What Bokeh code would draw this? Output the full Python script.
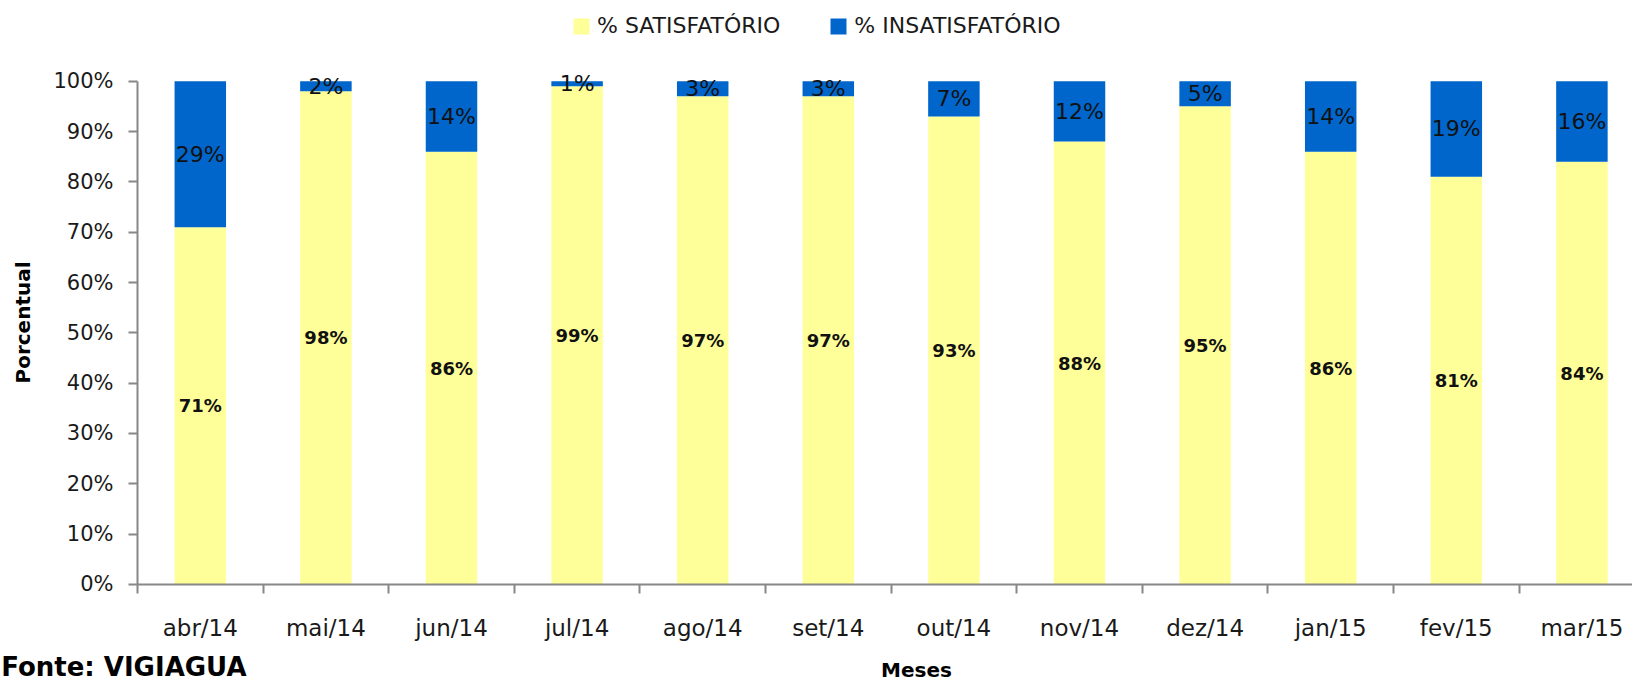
from bokeh.plotting import figure
from bokeh.models import (ColumnDataSource, Range1d, FixedTicker, NumeralTickFormatter,
                          Legend, LegendItem, Label, LabelSet)
from bokeh.embed import file_html
from bokeh.resources import INLINE
from bokeh.core.properties import value

# ---- data ----
meses = ["abr/14", "mai/14", "jun/14", "jul/14", "ago/14", "set/14",
         "out/14", "nov/14", "dez/14", "jan/15", "fev/15", "mar/15"]
satisfatorio = [71, 98, 86, 99, 97, 97, 93, 88, 95, 86, 81, 84]
insatisfatorio = [29, 2, 14, 1, 3, 3, 7, 12, 5, 14, 19, 16]
y_ticks = [0, 10, 20, 30, 40, 50, 60, 70, 80, 90, 100]

YELLOW = "#FFFF99"
BLUE = "#0066CC"
AXIS = "#878787"
FONT = "DejaVu Sans"

x = list(range(len(meses)))
sat = [v / 100 for v in satisfatorio]
ins = [v / 100 for v in insatisfatorio]
top = [s + i for s, i in zip(sat, ins)]
source = ColumnDataSource(dict(
    x=x, sat=sat, top=top, zero=[0] * len(x),
    sat_mid=[s / 2 for s in sat],
    ins_mid=[s + i / 2 for s, i in zip(sat, ins)],
    sat_lbl=[f"{v}%" for v in satisfatorio],
    ins_lbl=[f"{v}%" for v in insatisfatorio],
))

W, H = 1632, 684
p = figure(width=W, height=H,
           x_range=Range1d(-1.5908, 11.4028), y_range=Range1d(-0.1987, 1.1603),
           output_backend="svg", toolbar_location=None,
           min_border=0, min_border_left=0, min_border_right=0,
           min_border_top=0, min_border_bottom=0)
p.outline_line_color = None
p.grid.visible = False
p.background_fill_color = "white"
p.border_fill_color = "white"

r1 = p.vbar(x="x", bottom="zero", top="sat", width=0.41, source=source,
            fill_color=YELLOW, line_color=None)
r2 = p.vbar(x="x", bottom="sat", top="top", width=0.41, source=source,
            fill_color=BLUE, line_color=None)

p.add_layout(LabelSet(x="x", y="sat_mid", text="sat_lbl", source=source,
                      text_align="center", text_baseline="middle",
                      text_font=value(FONT), text_font_style="bold",
                      text_font_size="18px", text_color="#111111"))
p.add_layout(LabelSet(x="x", y="ins_mid", text="ins_lbl", source=source,
                      text_align="center", text_baseline="middle",
                      text_font=value(FONT), text_font_size="22px",
                      text_color="#111111"))

# x axis (drawn at y = 0)
xa = p.xaxis[0]
xa.fixed_location = 0
xa.bounds = (-0.5, 12)
xa.ticker = FixedTicker(ticks=x, minor_ticks=[i - 0.5 for i in range(len(meses))])
xa.major_label_overrides = {i: m for i, m in enumerate(meses)}
xa.major_tick_line_color = None
xa.major_tick_out = 0
xa.major_tick_in = 0
xa.minor_tick_line_color = AXIS
xa.minor_tick_line_width = 2
xa.minor_tick_out = 9
xa.minor_tick_in = 0
xa.axis_line_color = AXIS
xa.axis_line_width = 2
xa.major_label_standoff = 22
xa.major_label_text_font = FONT
xa.major_label_text_font_size = "23px"
xa.major_label_text_color = "#1a1a1a"

# y axis (drawn at x = -0.5)
ya = p.yaxis[0]
ya.fixed_location = -0.5
ya.bounds = (0, 1)
ya.ticker = FixedTicker(ticks=[t / 100 for t in y_ticks])
ya.formatter = NumeralTickFormatter(format="0%")
ya.major_tick_line_color = AXIS
ya.major_tick_line_width = 2
ya.major_tick_out = 9
ya.major_tick_in = 0
ya.minor_tick_line_color = None
ya.axis_line_color = AXIS
ya.axis_line_width = 2
ya.major_label_standoff = 15
ya.major_label_text_font = FONT
ya.major_label_text_font_size = "21px"
ya.major_label_text_color = "#1a1a1a"

# titles as labels
p.add_layout(Label(x=-1.4156, y=0.5206, text="Porcentual", angle=1.5708,
                   text_align="center", text_baseline="middle",
                   text_font=FONT, text_font_style="bold", text_font_size="20px",
                   text_color="black"))
p.add_layout(Label(x=5.702, y=-0.169, text="Meses",
                   text_align="center", text_baseline="middle",
                   text_font=FONT, text_font_style="bold", text_font_size="20px",
                   text_color="black"))
p.add_layout(Label(x=-1.585, y=-0.163, text="Fonte: VIGIAGUA",
                   text_align="left", text_baseline="middle",
                   text_font=FONT, text_font_style="bold", text_font_size="26px",
                   text_color="black"))

legend = Legend(items=[LegendItem(label="% SATISFATÓRIO", renderers=[r1]),
                       LegendItem(label="% INSATISFATÓRIO", renderers=[r2])],
                orientation="horizontal", location=(571, 646),
                glyph_width=20, glyph_height=20, label_standoff=6, spacing=48,
                padding=0, margin=0, border_line_color=None, background_fill_alpha=0,
                label_text_font=FONT, label_text_font_size="22px",
                label_text_color="#1a1a1a", label_height=20)
p.add_layout(legend, "center")

open("out.html", "w").write(file_html(p, INLINE))
